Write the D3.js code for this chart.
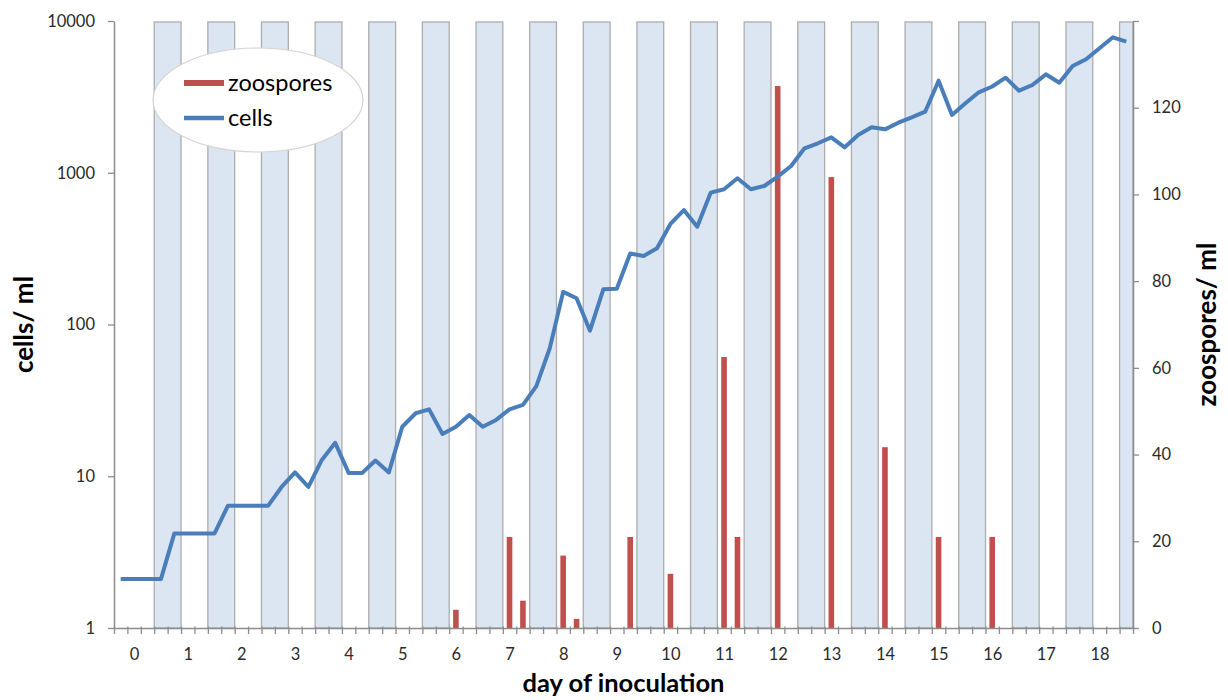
<!DOCTYPE html>
<html>
<head>
<meta charset="utf-8">
<script src="https://cdn.jsdelivr.net/npm/d3@7"></script>
<style>
  html, body { margin: 0; padding: 0; background: #ffffff; }
  svg { display: block; font-family: Lato, "Open Sans", sans-serif; }
</style>
</head>
<body>
<svg id="chart" width="1228" height="700"></svg>
<script>
// ---- data ----
// categories: sampling times (days), every 6 h
const categories = [
  -0.25, 0, 0.25, 0.5, 0.75, 1, 1.25, 1.5, 1.75, 2, 2.25, 2.5, 2.75, 3, 3.25, 3.5, 3.75,
  4, 4.25, 4.5, 4.75, 5, 5.25, 5.5, 5.75, 6, 6.25, 6.5, 6.75, 7, 7.25, 7.5, 7.75,
  8, 8.25, 8.5, 8.75, 9, 9.25, 9.5, 9.75, 10, 10.25, 10.5, 10.75, 11, 11.25, 11.5, 11.75,
  12, 12.25, 12.5, 12.75, 13, 13.25, 13.5, 13.75, 14, 14.25, 14.5, 14.75, 15, 15.25, 15.5, 15.75,
  16, 16.25, 16.5, 16.75, 17, 17.25, 17.5, 17.75, 18, 18.25, 18.5
];
// cells / ml (left, log axis)
const cells = [
  2.1, 2.1, 2.1, 2.1, 4.2, 4.2, 4.2, 4.2, 6.4, 6.4, 6.4, 6.4,
  8.5, 10.6, 8.5, 12.8, 16.6, 10.5, 10.5, 12.7, 10.6, 21.2, 26, 27.6,
  19, 21.2, 25.3, 21.2, 23.5, 27.6, 29.5, 39.3, 69.7, 164, 149, 91,
  171, 172, 294, 283, 318, 460, 568, 441, 739, 778, 919, 778,
  818, 942, 1108, 1449, 1564, 1712, 1471, 1774, 1993, 1932, 2137, 2319,
  2526, 4043, 2402, 2869, 3389, 3700, 4231, 3473, 3787, 4453, 3922, 5052,
  5593, 6607, 7807, 7305
];
// zoospores / ml (right axis)
const zoospores = [
  0, 0, 0, 0, 0, 0, 0, 0, 0, 0, 0, 0, 0, 0, 0, 0, 0, 0, 0, 0,
  0, 0, 0, 0, 0, 4.2, 0, 0, 0, 21, 6.3, 0, 0, 16.7, 2.1, 0, 0, 0, 21, 0,
  0, 12.5, 0, 0, 0, 62.5, 21, 0, 0, 125, 0, 0, 0, 104, 0, 0, 0, 41.7, 0, 0,
  0, 21, 0, 0, 0, 21, 0, 0, 0, 0, 0, 0, 0, 0, 0, 0
];
// dark phase (background columns, right axis value)
const darkPhase = [
  0, 0, 0, 140, 140, 0, 0, 140, 140, 0, 0, 140, 140, 0, 0, 140, 140, 0, 0, 140,
  140, 0, 0, 140, 140, 0, 0, 140, 140, 0, 0, 140, 140, 0, 0, 140, 140, 0, 0, 140,
  140, 0, 0, 140, 140, 0, 0, 140, 140, 0, 0, 140, 140, 0, 0, 140, 140, 0, 0, 140,
  140, 0, 0, 140, 140, 0, 0, 140, 140, 0, 0, 140, 140, 0, 0, 140
];
const dayLabels = ["0","1","2","3","4","5","6","7","8","9","10","11","12","13","14","15","16","17","18"];
const leftTicks = [1, 10, 100, 1000, 10000];
const rightTicks = [0, 20, 40, 60, 80, 100, 120, 140];
const rightTickLabels = ["0","20","40","60","80","100","120",""];

// ---- layout ----
const L = 114, R = 1133, T = 21, B = 628;
const svg = d3.select("#chart");
const idx = d3.range(categories.length);

const x = d3.scaleBand().domain(idx).range([L, R]).paddingInner(0).paddingOuter(0);
const bw = x.bandwidth();
const yL = d3.scaleLog().domain([1, 10000]).range([B, T]);
const yR = d3.scaleLinear().domain([0, 140]).range([B, T]);

const axisColor = "#8c8c8c";
const textColor = "#2b2b2b";

// background dark-phase columns (merge consecutive categories)
const groups = [];
idx.forEach(i => {
  if (darkPhase[i] > 0) {
    const g = groups[groups.length - 1];
    if (g && g.end === i - 1) { g.end = i; g.v = Math.max(g.v, darkPhase[i]); }
    else groups.push({start: i, end: i, v: darkPhase[i]});
  }
});
svg.append("g").selectAll("rect").data(groups).join("rect")
  .attr("x", g => x(g.start))
  .attr("y", g => yR(g.v) + 1)
  .attr("width", g => x(g.end) + bw - x(g.start))
  .attr("height", g => yR(0) - yR(g.v) - 1)
  .attr("fill", "#dce6f2")
  .attr("stroke", "#adadad")
  .attr("stroke-width", 1.3);

// zoospore bars
const barW = 5.6;
svg.append("g").selectAll("rect").data(idx.filter(i => zoospores[i] > 0)).join("rect")
  .attr("x", i => x(i) + bw / 2 - barW / 2)
  .attr("y", i => yR(zoospores[i]))
  .attr("width", barW)
  .attr("height", i => yR(0) - yR(zoospores[i]))
  .attr("fill", "#c0504d");

// axes
function styleAxis(g) {
  g.select(".domain").attr("stroke", axisColor).attr("stroke-width", 1.5);
  g.selectAll(".tick line").attr("stroke", axisColor).attr("stroke-width", 1.3);
  g.selectAll(".tick text").attr("fill", textColor).attr("font-size", 16.5)
    .attr("font-family", "Lato, 'Open Sans', sans-serif");
}

const gl = svg.append("g").attr("transform", `translate(${L},0)`)
  .call(d3.axisLeft(yL).tickValues(leftTicks).tickFormat(d3.format("d"))
    .tickSizeOuter(0).tickSizeInner(6).tickPadding(13));
styleAxis(gl);

const gr = svg.append("g").attr("transform", `translate(${R},0)`)
  .call(d3.axisRight(yR).tickValues(rightTicks).tickFormat((d, i) => rightTickLabels[i])
    .tickSizeOuter(0).tickSizeInner(6).tickPadding(13));
styleAxis(gr);

// bottom axis: boundary ticks
const xb = d3.scaleLinear().domain([0, categories.length]).range([L, R]);
const gbt = svg.append("g").attr("transform", `translate(0,${B})`)
  .call(d3.axisBottom(xb).tickValues(d3.range(categories.length + 1)).tickFormat("")
    .tickSizeOuter(0).tickSizeInner(6));
styleAxis(gbt);
gbt.selectAll(".tick line").attr("y1", -1.5);

// bottom axis: day labels at category centres
const labelIdx = dayLabels.map(d => categories.indexOf(+d));
const gbl = svg.append("g").attr("transform", `translate(0,${B})`)
  .call(d3.axisBottom(d3.scaleLinear().domain([L, R]).range([L, R]))
    .tickValues(labelIdx.map(i => x(i) + bw / 2))
    .tickFormat((d, i) => dayLabels[i]).tickSize(0).tickPadding(20));
gbl.select(".domain").remove();
styleAxis(gbl);

// cells line
const line = d3.line().x((d, i) => x(i) + bw / 2).y(d => yL(d));
svg.append("path").datum(cells)
  .attr("d", line)
  .attr("fill", "none")
  .attr("stroke", "#4a7ebb")
  .attr("stroke-width", 4)
  .attr("stroke-linejoin", "round")
  .attr("stroke-linecap", "butt");

// axis titles
svg.append("text").attr("transform", `translate(33,${(T + B) / 2}) rotate(-90)`)
  .attr("text-anchor", "middle").attr("font-weight", "bold").attr("font-size", 26)
  .attr("fill", "#000").text("cells/ ml");
svg.append("text").attr("transform", `translate(1216,${(T + B) / 2}) rotate(-90)`)
  .attr("text-anchor", "middle").attr("font-weight", "bold").attr("font-size", 26)
  .attr("fill", "#000").text("zoospores/ ml");
svg.append("text").attr("x", (L + R) / 2).attr("y", 692)
  .attr("text-anchor", "middle").attr("font-weight", "bold").attr("font-size", 25.5)
  .attr("fill", "#000").text("day of inoculation");

// legend
const legend = svg.append("g");
legend.append("ellipse").attr("cx", 258).attr("cy", 100).attr("rx", 105).attr("ry", 52)
  .attr("fill", "#ffffff").attr("stroke", "#d4d4d4").attr("stroke-width", 1.2);
const legItems = [
  {name: "zoospores", color: "#c0504d", w: 6, y: 83},
  {name: "cells", color: "#4a7ebb", w: 4.5, y: 118}
];
legItems.forEach(it => {
  legend.append("line").attr("x1", 184).attr("x2", 224).attr("y1", it.y).attr("y2", it.y)
    .attr("stroke", it.color).attr("stroke-width", it.w);
  legend.append("text").attr("x", 228).attr("y", it.y + 7.5).attr("font-size", 23.5)
    .attr("fill", "#000").text(it.name);
});
</script>
</body>
</html>
